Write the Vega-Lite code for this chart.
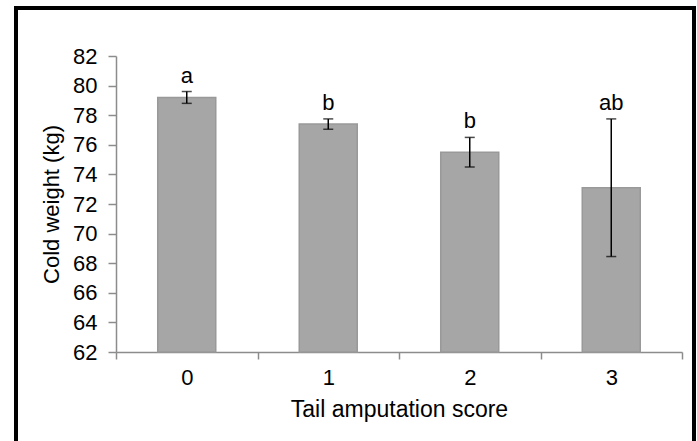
{
  "$schema": "https://vega.github.io/schema/vega-lite/v6.json",
  "width": 678,
  "height": 435,
  "autosize": {"type": "none"},
  "padding": {"left": 16, "top": 8, "right": 3, "bottom": -2},
  "background": "white",
  "config": {
    "view": {"stroke": "black", "strokeWidth": 4, "fill": "white"},
    "font": "Liberation Sans",
    "axis": {
      "grid": false,
      "domainColor": "#8c8c8c",
      "domainWidth": 1.5,
      "tickColor": "#8c8c8c",
      "tickWidth": 1.5,
      "labelFont": "Liberation Sans",
      "labelFontSize": 22,
      "labelColor": "black",
      "titleFont": "Liberation Sans",
      "titleFontSize": 22,
      "titleFontWeight": "normal",
      "titleColor": "black"
    }
  },
  "data": {
    "values": [
      {"score": "0", "mean": 79.2, "lo": 78.8, "hi": 79.6, "label": "a"},
      {"score": "1", "mean": 77.4, "lo": 77.05, "hi": 77.75, "label": "b"},
      {"score": "2", "mean": 75.5, "lo": 74.5, "hi": 76.5, "label": "b"},
      {"score": "3", "mean": 73.1, "lo": 68.45, "hi": 77.75, "label": "ab"}
    ]
  },
  "encoding": {
    "x": {
      "field": "score",
      "type": "nominal",
      "scale": {"range": [100, 666], "paddingInner": 0, "paddingOuter": 0},
      "axis": {
        "title": "Tail amputation score",
        "titleFontSize": 23,
        "labelAngle": 0,
        "tickBand": "extent",
        "offset": -91,
        "tickSize": 7,
        "labelPadding": 8,
        "titlePadding": 10
      }
    }
  },
  "layer": [
    {
      "mark": {"type": "bar", "fill": "#a6a6a6", "stroke": "#999999", "strokeWidth": 1.5, "width": {"band": 0.41}},
      "encoding": {
        "y": {
          "field": "mean",
          "type": "quantitative",
          "title": "Cold weight (kg)",
          "scale": {"domain": [62, 82], "nice": false, "zero": false, "range": [344, 48]},
          "axis": {
            "values": [62, 64, 66, 68, 70, 72, 74, 76, 78, 80, 82],
            "offset": -100,
            "tickSize": 8,
            "labelPadding": 11,
            "titlePadding": 9
          }
        },
        "y2": {"datum": 62}
      }
    },
    {
      "mark": {"type": "rule", "color": "black", "strokeWidth": 1.5},
      "encoding": {
        "y": {"field": "lo", "type": "quantitative", "title": "Cold weight (kg)"},
        "y2": {"field": "hi"}
      }
    },
    {
      "mark": {"type": "tick", "color": "black", "thickness": 1.5, "size": 10, "orient": "horizontal"},
      "encoding": {
        "y": {"field": "lo", "type": "quantitative", "title": "Cold weight (kg)"}
      }
    },
    {
      "mark": {"type": "tick", "color": "black", "thickness": 1.5, "size": 10, "orient": "horizontal"},
      "encoding": {
        "y": {"field": "hi", "type": "quantitative", "title": "Cold weight (kg)"}
      }
    },
    {
      "mark": {"type": "text", "baseline": "alphabetic", "dy": -9, "fontSize": 22, "font": "Liberation Sans", "color": "black"},
      "encoding": {
        "y": {"field": "hi", "type": "quantitative", "title": "Cold weight (kg)"},
        "text": {"field": "label"}
      }
    }
  ]
}
